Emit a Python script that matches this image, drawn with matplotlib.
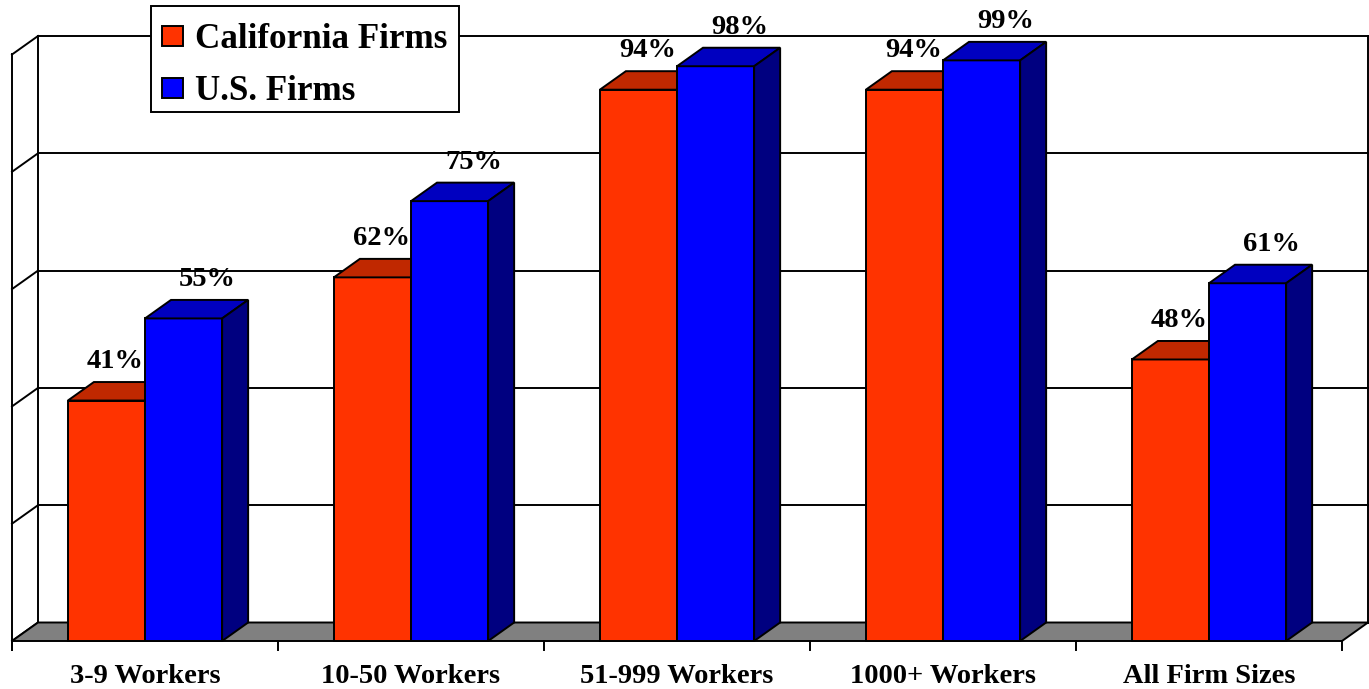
import matplotlib.pyplot as plt
from matplotlib.patches import Polygon, Rectangle

categories = ['3-9 Workers', '10-50 Workers', '51-999 Workers', '1000+ Workers', 'All Firm Sizes']
ca_firms = [41, 62, 94, 94, 48]
us_firms = [55, 75, 98, 99, 61]
series_names = ['California Firms', 'U.S. Firms']

# colours: front, top, side
ca_colors = ('#FF3300', '#C02800', '#992000')
us_colors = ('#0000FF', '#0000C0', '#000080')

W, H = 1369, 689
X0, Y0 = 12, 641          # front-left corner of the floor, px
CAT_W = 266               # px per category
PCT = 5.865               # px per percent
DX = 26 / CAT_W           # depth offset in category units
DY = 18.5 / PCT           # depth offset in percent units
LW = 1.4
FONT = 'Liberation Serif'

fig = plt.figure(figsize=(W / 100, H / 100), dpi=100)
ax = fig.add_axes([0, 0, 1, 1])
ax.set_xlim(-X0 / CAT_W, (W - X0) / CAT_W)
ax.set_ylim((Y0 - H) / PCT, Y0 / PCT)
ax.axis('off')


def px(x, y):
    # pixel position -> data coords (used for the legend box only)
    return (x - X0) / CAT_W, (Y0 - y) / PCT


n = len(categories)

# walls, gridlines
for v in range(0, 101, 20):
    ax.plot([DX, n + DX], [v + DY, v + DY], color='black', lw=LW, zorder=1)
    ax.plot([0, DX], [v, v + DY], color='black', lw=LW, zorder=1)
ax.plot([DX, DX], [DY, 100 + DY], color='black', lw=LW, zorder=1)
ax.plot([n + DX, n + DX], [DY, 100 + DY], color='black', lw=LW, zorder=1)
ax.plot([0, 0], [-9 / PCT, 100], color='black', lw=LW, zorder=1)

# floor
ax.add_patch(Polygon([(0, 0), (n, 0), (n + DX, DY), (DX, DY)], closed=True,
                     fc='#808080', ec='black', lw=LW, zorder=2))

# category ticks and labels
for i in range(n + 1):
    ax.plot([i, i], [0, -9 / PCT], color='black', lw=LW, zorder=2)
for i, c in enumerate(categories):
    ax.text(i + 0.5, -42 / PCT, c, ha='center', va='baseline', fontsize=20.5,
            fontweight='bold', family=FONT)


def bar3d(x, w, h, colors, z, lab_dx):
    front, top, side = colors
    ax.add_patch(Rectangle((x, 0), w, h, fc=front, ec='black', lw=LW, zorder=z))
    ax.add_patch(Polygon([(x, h), (x + w, h), (x + w + DX, h + DY), (x + DX, h + DY)],
                         closed=True, fc=top, ec='black', lw=LW, zorder=z))
    ax.add_patch(Polygon([(x + w, 0), (x + w + DX, DY), (x + w + DX, h + DY), (x + w, h)],
                         closed=True, fc=side, ec='black', lw=LW, zorder=z))
    ax.text(x + w / 2 + lab_dx, h + DY + 14 / PCT, f'{h}%', ha='center',
            va='baseline', fontsize=20.5, fontweight='bold', family=FONT, zorder=6)


gap, bw = 0.21, 0.29
for i in range(n):
    bar3d(i + gap, bw, ca_firms[i], ca_colors, 3, 9 / CAT_W)
    bar3d(i + gap + bw, bw, us_firms[i], us_colors, 4, 24 / CAT_W)

# legend
lx0, ly0 = px(151, 112)
lx1, ly1 = px(459, 6)
ax.add_patch(Rectangle((lx0, ly0), lx1 - lx0, ly1 - ly0, fc='white', ec='black',
                       lw=LW, zorder=7))
for name, colors, yc in zip(series_names, (ca_colors, us_colors), (36, 88)):
    sx0, sy0 = px(162, yc + 10)
    sx1, sy1 = px(183, yc - 10)
    ax.add_patch(Rectangle((sx0, sy0), sx1 - sx0, sy1 - sy0, fc=colors[0],
                           ec='black', lw=LW, zorder=8))
    tx, ty = px(195, yc)
    ax.text(tx, ty, name, ha='left', va='center_baseline', fontsize=25.2,
            fontweight='bold', family=FONT, zorder=8)

fig.savefig('out.png', dpi=100)
